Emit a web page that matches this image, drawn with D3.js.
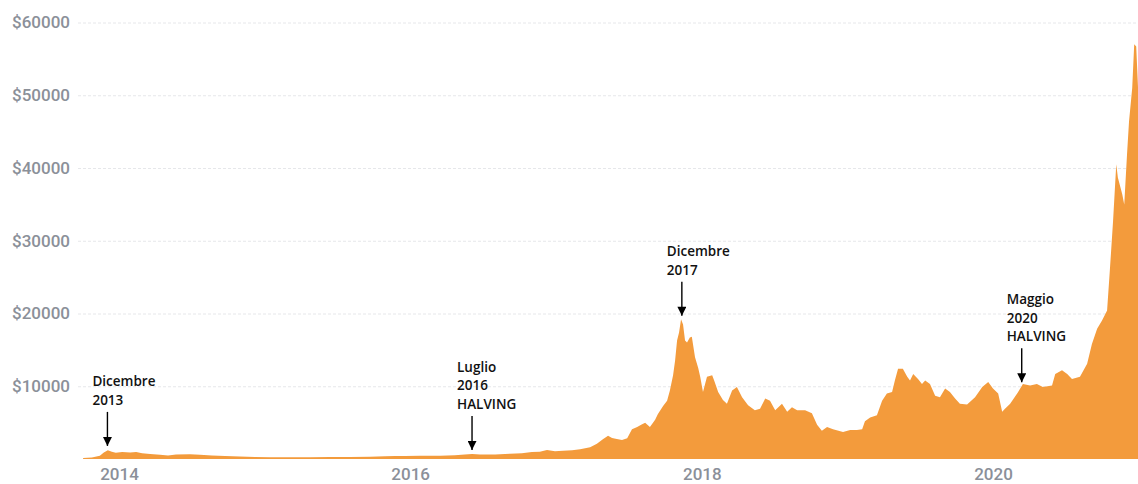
<!DOCTYPE html>
<html>
<head>
<meta charset="utf-8">
<script src="https://cdn.jsdelivr.net/npm/d3@7"></script>
<style>
  html, body { margin: 0; padding: 0; background: #ffffff; }
  svg { display: block; }
</style>
</head>
<body>
<svg id="chart" width="1138" height="484"></svg>
<script>
// Bitcoin price (USD) over time
const priceDates = [
  "2013-10-03","2013-10-25","2013-11-14","2013-11-24","2013-12-04","2013-12-14","2013-12-24",
  "2014-01-09","2014-01-29","2014-02-13","2014-02-28","2014-03-20","2014-04-14","2014-05-04",
  "2014-05-24","2014-06-28","2014-07-23","2014-08-22","2014-09-24","2014-10-31","2014-12-08",
  "2015-01-15","2015-03-06","2015-04-25","2015-06-14","2015-08-03","2015-09-22","2015-10-30",
  "2015-11-24","2015-12-19","2016-01-26","2016-03-16","2016-04-22","2016-05-17","2016-06-04",
  "2016-06-24","2016-08-01","2016-09-07","2016-10-07","2016-11-01","2016-11-21","2016-12-09",
  "2016-12-29","2017-01-18","2017-02-10","2017-03-02","2017-03-27","2017-04-13","2017-04-28",
  "2017-05-11","2017-05-21","2017-06-02","2017-06-15","2017-06-28","2017-07-10","2017-07-23",
  "2017-08-02","2017-08-12","2017-08-24","2017-09-06","2017-09-13","2017-09-26","2017-10-06",
  "2017-10-13","2017-10-21","2017-10-26","2017-10-31","2017-11-05","2017-11-10","2017-11-15",
  "2017-11-20","2017-11-25","2017-12-02","2017-12-07","2017-12-15","2017-12-23","2017-12-28",
  "2018-01-04","2018-01-14","2018-01-27","2018-02-01","2018-02-11","2018-02-23","2018-03-05",
  "2018-03-18","2018-03-30","2018-04-12","2018-04-27","2018-05-14","2018-05-27","2018-06-09",
  "2018-06-21","2018-07-04","2018-07-21","2018-08-03","2018-08-15","2018-08-28","2018-09-17",
  "2018-10-04","2018-10-17","2018-10-29","2018-11-11","2018-11-26","2018-12-21","2019-01-08",
  "2019-01-25","2019-02-07","2019-02-14","2019-02-27","2019-03-16","2019-03-29","2019-04-10",
  "2019-04-23","2019-04-30","2019-05-08","2019-05-20","2019-05-31","2019-06-07","2019-06-15",
  "2019-06-27","2019-07-07","2019-07-15","2019-07-27","2019-08-09","2019-08-21","2019-09-03",
  "2019-09-15","2019-09-28","2019-10-10","2019-10-28","2019-11-17","2019-12-05","2019-12-20",
  "2020-01-01","2020-01-14","2020-01-24","2020-01-31","2020-02-13","2020-03-04","2020-03-16",
  "2020-04-03","2020-04-20","2020-05-05","2020-05-28","2020-06-05","2020-06-22","2020-07-05",
  "2020-07-17","2020-08-06","2020-08-24","2020-09-05","2020-09-18","2020-09-30","2020-10-13",
  "2020-10-20","2020-10-28","2020-11-05","2020-11-09","2020-11-20","2020-11-25","2020-12-02",
  "2020-12-07","2020-12-15","2020-12-20","2020-12-25","2020-12-30"
];
const priceValues = [
  150,200,450,900,1200,1000,850,
  950,900,950,800,700,600,480,
  620,640,600,480,400,340,280,
  240,250,230,280,260,300,380,
  420,400,430,430,500,620,680,
  620,620,720,780,950,1000,1250,
  1050,1150,1200,1350,1600,2100,2700,
  3200,2900,2750,2600,2850,4100,4400,
  4700,5000,4400,5400,6200,7300,8000,
  9400,11500,13500,16300,17400,19200,18500,
  16300,16000,16700,16800,14000,12500,11300,
  9200,11300,11500,10800,9200,8100,7600,
  9400,9900,8500,7400,6700,6900,8300,
  8000,6700,7600,6500,7100,6700,6700,
  6300,4700,3900,4400,4100,3700,4000,
  4000,4100,5200,5700,6000,8000,9000,
  9200,10800,12400,12400,11300,10800,11700,
  11000,10300,10800,10300,8700,8500,9700,
  9200,8300,7600,7500,8500,9900,10600,
  9700,9000,6500,6900,7600,9200,10300,
  10100,10300,9900,10100,11700,12200,11700,
  11000,11300,13100,15800,17900,19000,20400,
  26000,32700,40500,38700,36400,35000,41900,
  46400,51000,57000,56700,50500
];

// Axis ticks
const yTickValues = [10000, 20000, 30000, 40000, 50000, 60000];
const xTickYears = ["2014-01-01", "2016-01-01", "2018-01-01", "2020-01-01"];
const xTickLabels = ["2014", "2016", "2018", "2020"];

// Event annotations (arrow tip placed at date / price)
const noteLines = [
  ["Dicembre", "2013"],
  ["Luglio", "2016", "HALVING"],
  ["Dicembre", "2017"],
  ["Maggio", "2020", "HALVING"]
];
const noteDates = ["2013-12-03", "2016-06-04", "2017-11-12", "2020-03-13"];
const noteTipValues = [1800, 1250, 19700, 10550];

const parse = d3.timeParse("%Y-%m-%d");
const data = priceDates.map((d, i) => ({ date: parse(d), value: priceValues[i] }));

const svg = d3.select("#chart");
const W = 1138, H = 484;

const x = d3.scaleTime()
  .domain([parse("2014-01-01"), parse("2020-01-01")])
  .range([119, 993]);

const y = d3.scaleLinear()
  .domain([0, 60000])
  .range([459, 22.5]);

// Horizontal grid and dollar labels
const yAxis = d3.axisLeft(y)
  .tickValues(yTickValues)
  .tickFormat(d => "$" + d)
  .tickSize(-(W - 80))
  .tickPadding(8);

const gy = svg.append("g")
  .attr("transform", "translate(78,0)")
  .call(yAxis);
gy.select(".domain").remove();
gy.selectAll(".tick line")
  .attr("stroke", "#e6e7ea")
  .attr("stroke-width", 1)
  .attr("stroke-dasharray", "3,2");
gy.selectAll(".tick text")
  .attr("fill", "#8b9099")
  .attr("font-family", "Roboto, 'Liberation Sans', sans-serif")
  .attr("font-weight", 500)
  .attr("font-size", "17px");

// Price area
const area = d3.area()
  .x(d => x(d.date))
  .y0(y(0))
  .y1(d => y(d.value))
  .curve(d3.curveLinear);

svg.append("path")
  .datum(data)
  .attr("fill", "#f39b3c")
  .attr("d", area);

// Year labels
const xAxis = d3.axisBottom(x)
  .tickValues(xTickYears.map(parse))
  .tickFormat((d, i) => xTickLabels[i])
  .tickSize(0)
  .tickPadding(0);

const gx = svg.append("g")
  .attr("transform", "translate(0,466)")
  .call(xAxis);
gx.select(".domain").remove();
gx.selectAll(".tick text")
  .attr("fill", "#8b9099")
  .attr("font-family", "Roboto, 'Liberation Sans', sans-serif")
  .attr("font-weight", 500)
  .attr("font-size", "17px")
  .attr("dy", "0.85em");

// Annotations with arrows
svg.append("defs").append("marker")
  .attr("id", "arrowhead")
  .attr("viewBox", "0 0 10 10")
  .attr("refX", 10)
  .attr("refY", 5)
  .attr("markerUnits", "userSpaceOnUse")
  .attr("markerWidth", 10)
  .attr("markerHeight", 9)
  .attr("orient", "auto")
  .append("path")
  .attr("d", "M0,0 L10,5 L0,10 Z")
  .attr("fill", "#000");

noteLines.forEach((lines, i) => {
  const tx = x(parse(noteDates[i]));
  const ty = y(noteTipValues[i]);
  const g = svg.append("g").attr("class", "note");
  g.append("line")
    .attr("x1", tx).attr("x2", tx)
    .attr("y1", ty - 34).attr("y2", ty)
    .attr("stroke", "#000")
    .attr("stroke-width", 1.4)
    .attr("marker-end", "url(#arrowhead)");
  const n = lines.length;
  lines.forEach((t, j) => {
    g.append("text")
      .attr("x", tx - 15)
      .attr("y", ty - 41 - (n - 1 - j) * 18.5)
      .attr("fill", "#111")
      .attr("font-family", "'Open Sans', 'Noto Sans', sans-serif")
      .attr("font-weight", 600)
      .attr("font-size", "13.5px")
      .text(t);
  });
});
</script>
</body>
</html>
